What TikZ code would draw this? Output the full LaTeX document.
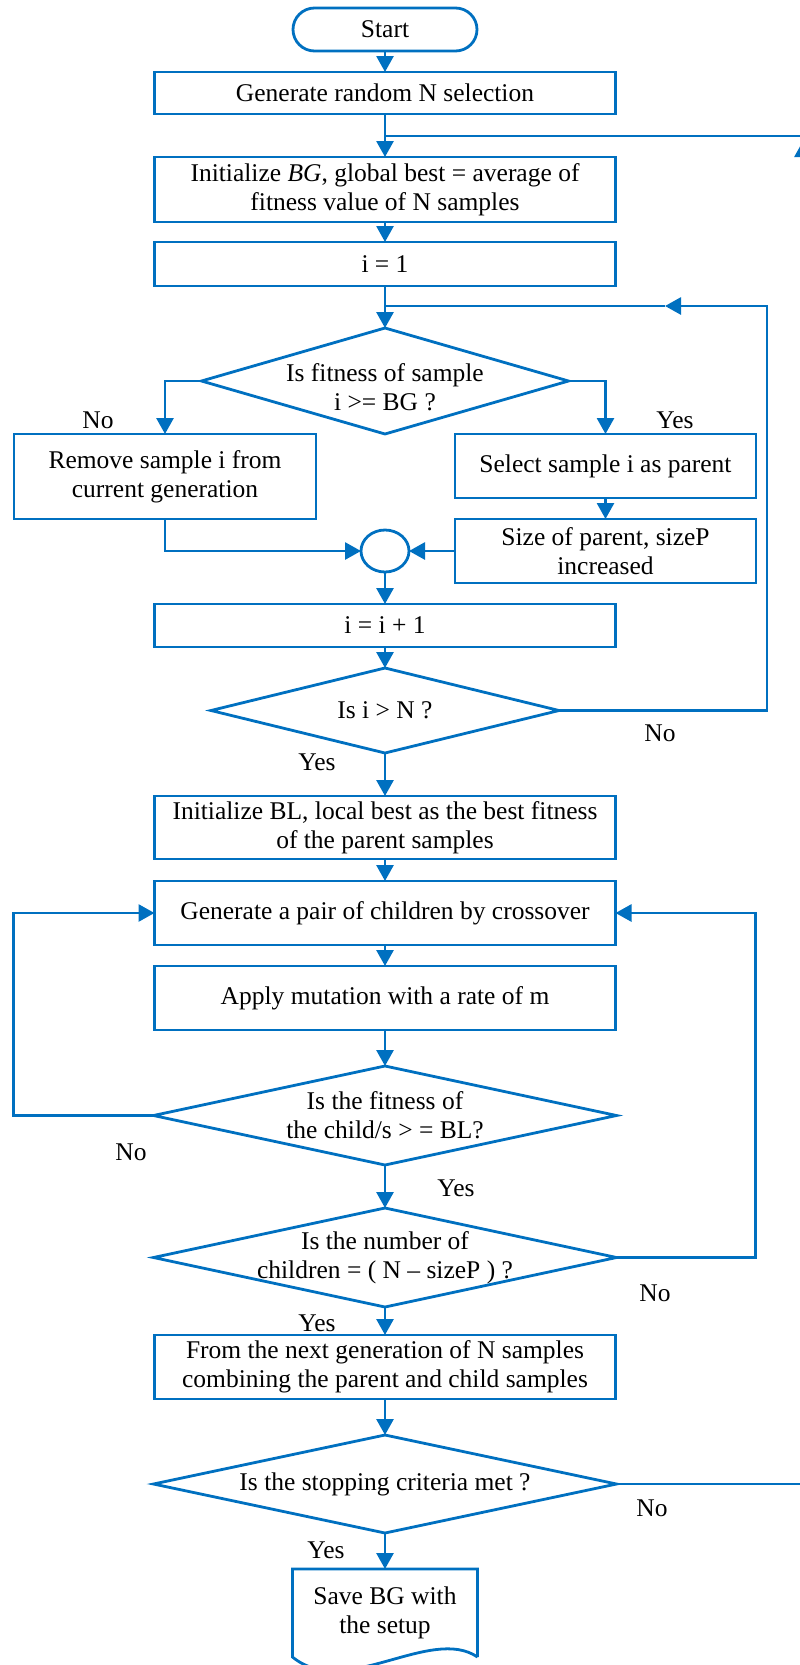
\documentclass[tikz,border=0pt]{standalone}
\usepackage{fontspec}
\setmainfont{Liberation Serif}
\usetikzlibrary{arrows.meta, positioning, shapes.geometric}

\definecolor{flowblue}{RGB}{0,112,192}

\begin{document}
\begin{tikzpicture}[
  x=0.5pt, y=-0.5pt,
  every node/.style={font=\fontsize{12.75}{14.5}\selectfont, outer sep=0pt},
  terminal/.style={rectangle, draw=flowblue, line width=1.4pt, rounded corners=10.75pt,
                   minimum width=92pt, minimum height=21.5pt},
  procbox/.style={rectangle, draw=flowblue, line width=1.4pt, minimum width=230.5pt,
                  minimum height=32pt, inner sep=2pt, align=center},
  decision/.style={diamond, draw=flowblue, line width=1.4pt, inner sep=0pt,
                   minimum width=231.5pt, minimum height=49.5pt},
  dtext/.style={align=center, inner sep=0pt},
  joint/.style={ellipse, draw=flowblue, line width=1.4pt, inner sep=0pt,
                minimum width=24pt, minimum height=21pt},
  docbox/.style={rectangle, minimum width=92.5pt, minimum height=44pt, align=center},
  lbl/.style={inner sep=0pt},
  wire/.style={draw=flowblue, line width=1.4pt},
  flow/.style={wire, -{Triangle[length=8pt, width=8.5pt]}}
]
  \useasboundingbox (0,0) rectangle (799,1665);

  \node[terminal] (start) at (385,29.5) {Start};
  \node[procbox, minimum height=21pt, below=10.5pt of start] (gen) {Generate random N selection};
  \node[procbox, minimum height=32.5pt, below=21.5pt of gen] (initbg)
    {Initialize \textit{BG}, global best = average of\\fitness value of N samples};
  \node[procbox, minimum height=22pt, below=10pt of initbg] (ione) {i = 1};
  \node[decision, minimum width=183.5pt, minimum height=53pt, below=21pt of ione] (fit) {};
  \node[dtext] (fittxt) at ([yshift=-3pt]fit.center) {Is fitness of sample\\i >= BG ?};
  \node[procbox, minimum width=151pt, minimum height=42.5pt] (remove) at (165,476.5)
    {Remove sample i from\\current generation};
  \node[procbox, minimum width=150.5pt] (select) at (605.5,466) {Select sample i as parent};
  \node[procbox, minimum width=150.5pt, below=10.5pt of select] (sizep)
    {Size of parent, sizeP\\increased};
  \node[joint] (merge) at (385,551) {};
  \node[procbox, minimum height=21.5pt, below=16pt of merge] (inext) {i = i + 1};
  \node[decision, minimum width=174pt, minimum height=42.5pt, below=10.5pt of inext] (last) {};
  \node[dtext] (lasttxt) at (last) {Is i > N ?};
  \node[procbox, minimum height=31.5pt, below=21.5pt of last] (initbl)
    {Initialize BL, local best as the best fitness\\of the parent samples};
  \node[procbox, below=11pt of initbl] (cross) {Generate a pair of children by crossover};
  \node[procbox, below=10.5pt of cross] (mutate) {Apply mutation with a rate of m};
  \node[decision, below=18pt of mutate] (better) {};
  \node[dtext] (bettertxt) at (better) {Is the fitness of\\the child/s > = BL?};
  \node[decision, below=21.5pt of better] (count) {};
  \node[dtext] (counttxt) at (count) {Is the number of\\children = ( N – sizeP ) ?};
  \node[procbox, below=14pt of count] (nextgen)
    {From the next generation of N samples\\combining the parent and child samples};
  \node[decision, minimum height=49pt, below=18pt of nextgen] (stop) {};
  \node[dtext] (stoptxt) at (stop) {Is the stopping criteria met ?};
  \node[docbox, below=18pt of stop] (save) {Save BG with\\the setup};
  \draw[wire] (save.south east) -- (save.north east) -- (save.north west) -- (save.south west)
    .. controls ([shift={(52,43)}]save.south west) and ([shift={(-47,-32)}]save.south east)
    .. (save.south east);

  \node[lbl] (fitno) at (98,420) {No};
  \node[lbl] (fityes) at (675,420) {Yes};
  \node[lbl] (lastno) at (660,733) {No};
  \node[lbl] (lastyes) at (317,762) {Yes};
  \node[lbl] (betterno) at (131,1152) {No};
  \node[lbl] (betteryes) at (456,1188) {Yes};
  \node[lbl] (countno) at (655,1293) {No};
  \node[lbl] (countyes) at (317,1323) {Yes};
  \node[lbl] (stopno) at (652,1508) {No};
  \node[lbl] (stopyes) at (326,1550) {Yes};

  \coordinate (loopR) at (767,306);
  \coordinate (loopTip) at (665,306);
  \coordinate (loopIn) at (385,306);
  \coordinate (backR) at (803,136);
  \coordinate (backTip) at (803,141);
  \coordinate (backIn) at (385,136);

  \draw[flow] (start) -- (gen);
  \draw[flow] (gen) -- (initbg);
  \draw[flow] (initbg) -- (ione);
  \draw[flow] (ione) -- (fit);
  \draw[flow] (fit.west) -| (remove.north);
  \draw[flow] (fit.east) -| (select.north);
  \draw[flow] (select) -- (sizep);
  \draw[flow] (remove.south) |- (merge.west);
  \draw[flow] (sizep.west) -- (merge.east);
  \draw[flow] (merge) -- (inext);
  \draw[flow] (inext) -- (last);
  \draw[flow] (last.east) -| (loopR) -- (loopTip);
  \draw[wire] (loopTip) -- (loopIn);
  \draw[flow] (last) -- (initbl);
  \draw[flow] (initbl) -- (cross);
  \draw[flow] (cross) -- (mutate);
  \draw[flow] (mutate) -- (better);
  \draw[flow] (better.west) -- ++(-140,0) |- (cross.west);
  \draw[flow] (better) -- (count);
  \draw[flow] (count.east) -- ++(139,0) |- (cross.east);
  \draw[flow] (count) -- (nextgen);
  \draw[flow] (nextgen) -- (stop);
  \draw[flow] (stop) -- (save);
  \draw[flow] (stop.east) -| (backTip);
  \draw[wire] (backR) -- (backIn);
\end{tikzpicture}
\end{document}
